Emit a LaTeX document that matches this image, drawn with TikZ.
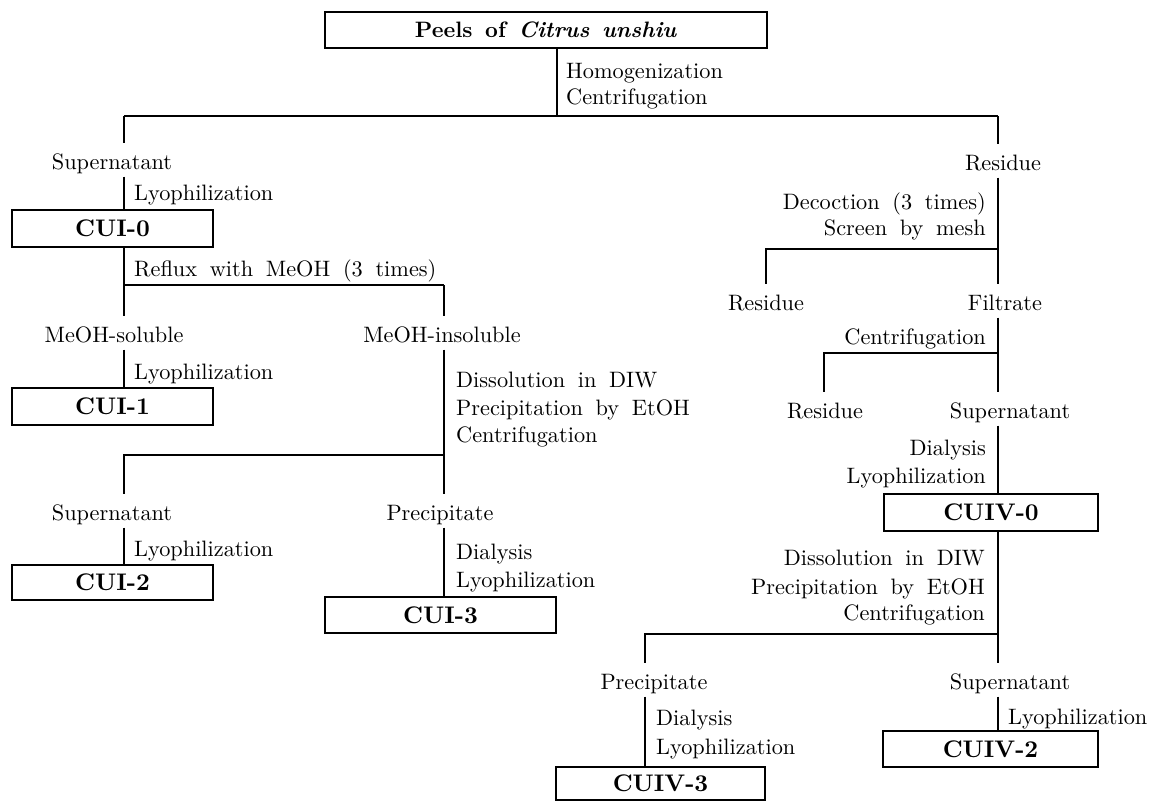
\documentclass[tikz,border=0pt]{standalone}
\usepackage{fontspec}
\setmainfont{lmroman10-regular.otf}[
  BoldFont=lmroman10-bold.otf,
  ItalicFont=lmroman10-italic.otf,
  BoldItalicFont=lmroman10-bolditalic.otf]
\newcommand{\labfont}{\fontsize{22.3}{26}\selectfont\spaceskip=0.57em\relax}
\newcommand{\boxfont}{\fontsize{24}{28}\selectfont\bfseries}
\tikzset{
  x=1pt, y=-1pt,
  conn/.style={line width=1.2pt, black},
  boxnode/.style={draw, line width=1.2pt, inner sep=0pt, font=\boxfont,
    text height=16pt, text depth=0pt, align=center},
  frac/.style={inner xsep=1pt, inner ysep=7pt, text height=19.5pt, text depth=0pt,
    font=\labfont, anchor=base},
  procL/.style={inner sep=0pt, font=\labfont, anchor=base west},
  procR/.style={inner sep=0pt, font=\labfont, anchor=base east},
}
\begin{document}
\begin{tikzpicture}
\useasboundingbox[fill=white] (0,0) rectangle (1151,801);

% boxes
\node[boxnode, font=\labfont\bfseries, text height=15pt, minimum width=442pt, minimum height=36pt] (peel) at (546,30) {Peels of \textit{Citrus unshiu}};
\node[boxnode, minimum width=201pt, minimum height=37pt] (cui0) at (112.5,228.5) {CUI-0};
\node[boxnode, minimum width=201pt, minimum height=37pt] (cui1) at (112.5,406.5) {CUI-1};
\node[boxnode, minimum width=201pt, minimum height=35pt] (cui2) at (112.5,582.5) {CUI-2};
\node[boxnode, minimum width=231pt, minimum height=36pt] (cui3) at (440.5,615) {CUI-3};
\node[boxnode, minimum width=214pt, minimum height=37pt] (cuiv0) at (991,512.5) {CUIV-0};
\node[boxnode, minimum width=215pt, minimum height=36pt] (cuiv2) at (990.5,749) {CUIV-2};
\node[boxnode, minimum width=209pt, minimum height=33pt] (cuiv3) at (660.5,783.5) {CUIV-3};

% fraction labels
\node[frac] (sup1) at (112,169.5) {Supernatant};
\node[frac] (resA) at (1003,170.5) {Residue};
\node[frac] (msol) at (114,342.5) {MeOH-soluble};
\node[frac] (minsol) at (442,342.5) {MeOH-insoluble};
\node[frac] (sup2) at (112,520.5) {Supernatant};
\node[frac] (prec1) at (440,520.5) {Precipitate};
\node[frac] (resB) at (766,310.5) {Residue};
\node[frac] (filt) at (1005,310.5) {Filtrate};
\node[frac] (resC) at (825,418.5) {Residue};
\node[frac] (sup3) at (1010,418.5) {Supernatant};
\node[frac] (prec2) at (654,689.5) {Precipitate};
\node[frac] (sup4) at (1010,689.5) {Supernatant};

% process labels
\node[procL] (homog) at (566,78.5) {Homogenization};
\node[procL] (cent1) at (566,104.5) {Centrifugation};
\node[procL] (lyo1) at (134,200.5) {Lyophilization};
\node[procL] (reflux) at (134,276.5) {Reflux with MeOH (3 times)};
\node[procL] (lyo2) at (134,379.5) {Lyophilization};
\node[procL] (diss1) at (456,387.5) {Dissolution in DIW};
\node[procL] (pby1) at (456,415.5) {Precipitation by EtOH};
\node[procL] (cent2) at (456,442.5) {Centrifugation};
\node[procL] (lyo3) at (134,556.5) {Lyophilization};
\node[procL] (dial1) at (456,559.5) {Dialysis};
\node[procL] (lyo4) at (456,587.5) {Lyophilization};
\node[procR] (decoc) at (986,209.5) {Decoction (3 times)};
\node[procR] (screen) at (986,235.5) {Screen by mesh};
\node[procR] (cent3) at (986,344.5) {Centrifugation};
\node[procR] (dial2) at (986,455.5) {Dialysis};
\node[procR] (lyo5) at (986,483.5) {Lyophilization};
\node[procR] (diss2) at (985,565.5) {Dissolution in DIW};
\node[procR] (pby2) at (985,594.5) {Precipitation by EtOH};
\node[procR] (cent4) at (985,620.5) {Centrifugation};
\node[procL] (dial3) at (656,725.5) {Dialysis};
\node[procL] (lyo6) at (656,754.5) {Lyophilization};
\node[procL] (lyo7) at (1008,724.5) {Lyophilization};

% junctions
\coordinate (j0) at (557,116);
\coordinate (jL) at (124,116);
\coordinate (jR) at (998,116);
\coordinate (jM) at (124,285);
\coordinate (jMR) at (444,285);
\coordinate (jPR) at (444,455);
\coordinate (jPL) at (124,455);
\coordinate (jS) at (998,249);
\coordinate (jSL) at (766,249);
\coordinate (jT) at (998,353);
\coordinate (jTL) at (824,353);
\coordinate (jU) at (998,634);
\coordinate (jUL) at (645,634);

% connectors
\draw[conn] (peel.south -| j0) -- (j0);
\draw[conn] (jL) -- (jR);
\draw[conn] (jL) -- (jL |- sup1.north);
\draw[conn] (sup1.south -| jL) -- (cui0.north -| jL);
\draw[conn] (cui0.south -| jM) -- (jM) -- (jMR);
\draw[conn] (jM) -- (jM |- msol.north);
\draw[conn] (jMR) -- (jMR |- minsol.north);
\draw[conn] (msol.south -| jM) -- (cui1.north -| jM);
\draw[conn] (minsol.south -| jPR) -- (jPR |- prec1.north);
\draw[conn] (jPR) -- (jPL) -- (jPL |- sup2.north);
\draw[conn] (sup2.south -| jPL) -- (cui2.north -| jPL);
\draw[conn] (prec1.south -| jPR) -- (cui3.north -| jPR);

\draw[conn] (jR) -- (jR |- resA.north);
\draw[conn] (resA.south -| jS) -- (jS |- filt.north);
\draw[conn] (jS) -- (jSL) -- (jSL |- resB.north);
\draw[conn] (filt.south -| jT) -- (jT |- sup3.north);
\draw[conn] (jT) -- (jTL) -- (jTL |- resC.north);
\draw[conn] (sup3.south -| jT) -- (cuiv0.north -| jT);
\draw[conn] (cuiv0.south -| jU) -- (jU |- sup4.north);
\draw[conn] (jU) -- (jUL) -- (jUL |- prec2.north);
\draw[conn] (prec2.south -| jUL) -- (cuiv3.north -| jUL);
\draw[conn] (sup4.south -| jU) -- (cuiv2.north -| jU);
\end{tikzpicture}
\end{document}
